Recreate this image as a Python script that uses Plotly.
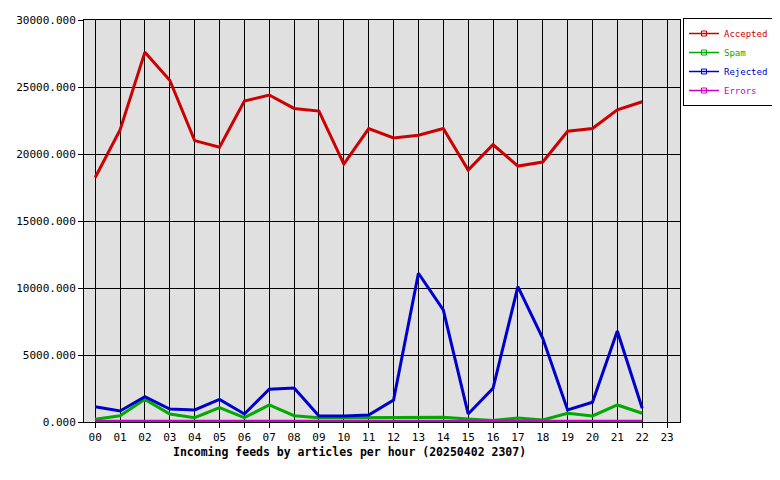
import plotly.graph_objects as go

hours = ["00","01","02","03","04","05","06","07","08","09","10","11",
         "12","13","14","15","16","17","18","19","20","21","22","23"]
hour_idx = list(range(24))

accepted = [18250, 21800, 27600, 25500, 21000, 20500, 23950, 24400, 23400, 23200, 19250, 21900,
            21200, 21400, 21900, 18800, 20700, 19100, 19400, 21700, 21900, 23300, 23900]
spam = [200, 470, 1690, 600, 320, 1070, 320, 1270, 470, 320, 320, 320,
        350, 350, 350, 220, 120, 300, 150, 650, 450, 1270, 650]
rejected = [1140, 820, 1890, 970, 900, 1690, 600, 2440, 2540, 450, 450, 520,
            1640, 11100, 8360, 600, 2510, 10100, 6250, 900, 1470, 6790, 1020]
errors = [60, 60, 60, 60, 60, 60, 60, 60, 60, 60, 60, 60,
          60, 60, 60, 60, 60, 60, 60, 60, 60, 60, 60]

series = [
    ("Accepted", accepted, "#cc0000"),
    ("Spam", spam, "#00aa00"),
    ("Rejected", rejected, "#0000cc"),
    ("Errors", errors, "#cc00cc"),
]

title_text = "Incoming feeds by articles per hour (20250402 2307)"

font_family = "DejaVu Sans Mono, Liberation Mono, monospace"

# The page body adds an 8px margin, so the figure is sized 772x472
W, H = 772, 472

fig = go.Figure()
for name, vals, col in series:
    fig.add_trace(go.Scatter(
        x=hour_idx[:len(vals)], y=vals,
        mode="lines",
        name=name,
        showlegend=False,
        line=dict(color=col, width=3),
    ))
# legend-only entries (line with small square marker, like the original key)
for name, vals, col in series:
    fig.add_trace(go.Scatter(
        x=[None], y=[None],
        mode="lines+markers",
        name=f'<span style="color:{col}">{name}</span>',
        line=dict(color=col, width=1.5),
        marker=dict(symbol="square-open", size=5, color=col, line=dict(width=1, color=col)),
    ))

y_ticks = [0, 5000, 10000, 15000, 20000, 25000, 30000]

fig.update_layout(
    width=W, height=H,
    paper_bgcolor="white",
    plot_bgcolor="#e0e0e0",
    margin=dict(l=76, r=100, t=12, b=58, autoexpand=False),
    font=dict(family=font_family, size=11, color="black"),
    showlegend=True,
    legend=dict(
        xref="container", yref="container",
        x=675 / W, y=1 - 10 / H, xanchor="left", yanchor="top",
        bordercolor="black", borderwidth=1, bgcolor="white",
        font=dict(family=font_family, size=9),
        itemwidth=30, tracegroupgap=0,
    ),
    xaxis=dict(
        range=[-0.45, 23.52],
        tickmode="array", tickvals=hour_idx, ticktext=hours,
        showgrid=True, gridcolor="black", gridwidth=1,
        showline=True, linecolor="black", linewidth=1, mirror=True,
        ticks="outside", ticklen=5, tickcolor="black",
        zeroline=False, layer="below traces", automargin=False,
    ),
    yaxis=dict(
        range=[0, 30000],
        tickmode="array", tickvals=y_ticks,
        ticktext=[f"{v:.3f}" for v in y_ticks],
        showgrid=True, gridcolor="black", gridwidth=1,
        showline=True, linecolor="black", linewidth=1, mirror=True,
        ticks="outside", ticklen=5, tickcolor="black",
        zeroline=False, layer="below traces", automargin=False,
    ),
    annotations=[dict(
        text=f"<b>{title_text}</b>",
        xref="paper", yref="paper",
        x=(341 - 76) / 596, y=-30 / 402,
        xanchor="center", yanchor="middle",
        showarrow=False,
        font=dict(family=font_family, size=11.5, color="black"),
    )],
)

fig.write_html("out.html")
